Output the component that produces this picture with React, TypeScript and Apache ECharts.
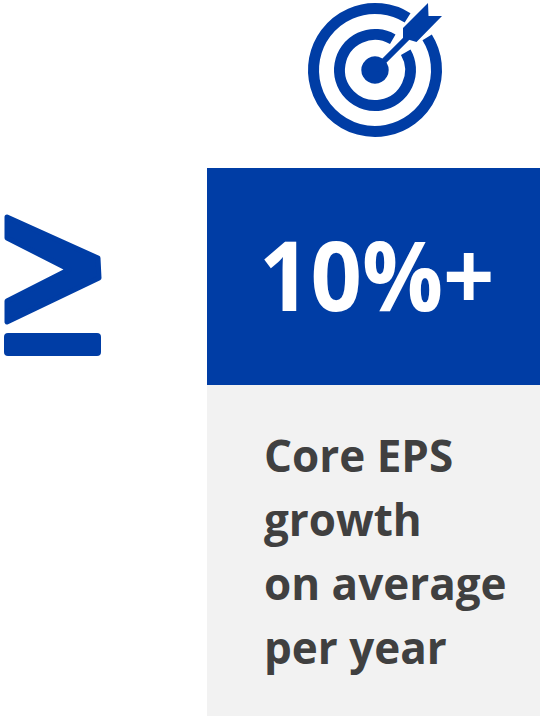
import React, { useEffect, useRef } from "react";
import * as echarts from "echarts";

const headline = "10%+";
const descriptionLines = ["Core EPS", "growth", "on average", "per year"];
const BLUE = "#003DA5";
const GRAY = "#F2F2F2";
const TEXT = "#404040";
const FONT = "'Open Sans', sans-serif";
const deg = (d: number) => (d * Math.PI) / 180;

export default function App() {
  const ref = useRef<HTMLDivElement>(null);
  useEffect(() => {
    const chart = echarts.init(ref.current!, null, { renderer: "svg" });
    const cx = 375, cy = 70;
    chart.setOption({
      animation: false,
      backgroundColor: "#fff",
      graphic: [
        { type: "rect", shape: { x: 207, y: 168, width: 333, height: 217 }, style: { fill: BLUE } },
        { type: "rect", shape: { x: 207, y: 385, width: 333, height: 331 }, style: { fill: GRAY } },
        { type: "arc", shape: { cx, cy, r: 61.5, startAngle: deg(-32), endAngle: deg(302), clockwise: true }, style: { stroke: BLUE, lineWidth: 11, fill: "none" } },
        { type: "arc", shape: { cx, cy, r: 35.5, startAngle: deg(-30), endAngle: deg(300), clockwise: true }, style: { stroke: BLUE, lineWidth: 11, fill: "none" } },
        { type: "circle", shape: { cx, cy, r: 13.7 }, style: { fill: BLUE } },
        { type: "line", shape: { x1: cx, y1: cy, x2: 410, y2: 35 }, style: { stroke: BLUE, lineWidth: 6 } },
        { type: "polygon", shape: { points: [[428, 3], [428.5, 16], [442, 16], [416.5, 42], [403, 38], [403, 28]] }, style: { fill: BLUE } },
        { type: "polygon", shape: { points: [[7, 217], [98, 258], [99, 278], [7, 322], [7, 301], [69, 269.5], [7, 238]] }, style: { fill: BLUE, stroke: BLUE, lineWidth: 5, lineJoin: "round" } },
        { type: "rect", shape: { x: 4, y: 333, width: 97, height: 23, r: 4 }, style: { fill: BLUE } },
        { type: "text", x: 259, y: 225, scaleY: 1.07, style: { text: headline, fill: "#fff", font: `700 90px ${FONT}`, textAlign: "left" } },
        ...descriptionLines.map((t, i) => ({
          type: "text", x: 264, y: 433 + i * 64,
          style: { text: t, fill: TEXT, font: `700 44px ${FONT}`, textAlign: "left" },
        })),
      ],
    });
    return () => chart.dispose();
  }, []);
  return <div ref={ref} style={{ position: "absolute", left: 0, top: 0, width: 540, height: 717 }} />;
}
